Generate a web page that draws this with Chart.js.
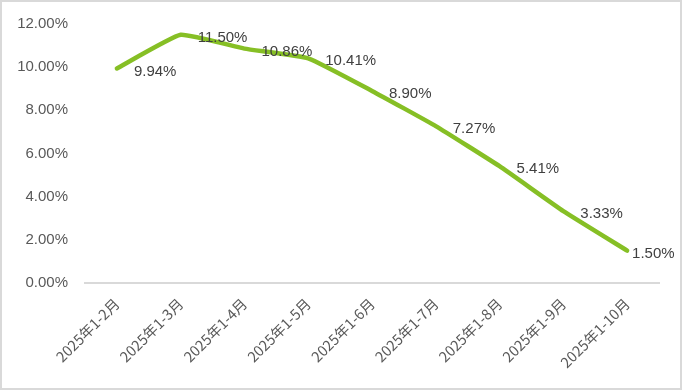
<!DOCTYPE html>
<html>
<head>
<meta charset="utf-8">
<script src="https://cdn.jsdelivr.net/npm/chart.js@4/dist/chart.umd.min.js"></script>
<style>
  html, body { margin: 0; padding: 0; background: #fff; }
  #wrap { width: 682px; height: 390px; box-sizing: border-box; border: 2px solid #d9d9d9; background: #fff; }
  canvas { display: block; }
</style>
</head>
<body>
<div id="wrap"><canvas id="chart" width="678" height="386"></canvas></div>
<script>
/* --- DATA --- */
const months = ['2025年1-2月', '2025年1-3月', '2025年1-4月', '2025年1-5月', '2025年1-6月',
                '2025年1-7月', '2025年1-8月', '2025年1-9月', '2025年1-10月'];
const growth = [9.94, 11.50, 10.86, 10.41, 8.90, 7.27, 5.41, 3.33, 1.50];
const yTicks = [0, 2, 4, 6, 8, 10, 12];

const lineColor = '#86bf25';
const textColor = '#595959';

// value labels drawn beside each point
const pointLabels = {
    id: 'pointLabels',
    afterDatasetsDraw(chart) {
        const ctx = chart.ctx;
        const meta = chart.getDatasetMeta(0);
        ctx.save();
        ctx.font = '15px "Liberation Sans", "DejaVu Sans", sans-serif';
        ctx.fillStyle = '#404040';
        ctx.textAlign = 'left';
        ctx.textBaseline = 'middle';
        meta.data.forEach((pt, i) => {
            const dx = i === meta.data.length - 1 ? 5 : 17;
            ctx.fillText(growth[i].toFixed(2) + '%', pt.x + dx, pt.y + 3);
        });
        ctx.restore();
    }
};

new Chart(document.getElementById('chart'), {
    type: 'line',
    data: {
        labels: months,
        datasets: [{
            data: growth,
            borderColor: lineColor,
            borderWidth: 4.5,
            borderCapStyle: 'round',
            borderJoinStyle: 'round',
            pointRadius: 0,
            tension: 0.12,
            fill: false
        }]
    },
    options: {
        responsive: false,
        animation: false,
        layout: { padding: { top: 22, right: 21, left: 0, bottom: 0 } },
        plugins: { legend: { display: false }, tooltip: { enabled: false } },
        scales: {
            y: {
                min: 0, max: 12,
                afterBuildTicks: (axis) => { axis.ticks = yTicks.map(v => ({ value: v })); },
                afterFit: (axis) => { axis.width = 83; },
                grid: { display: false },
                border: { display: false },
                ticks: {
                    padding: 9,
                    color: textColor,
                    font: { family: '"Liberation Sans", "DejaVu Sans", sans-serif', size: 15 },
                    callback: (v) => v.toFixed(2) + '%'
                }
            },
            x: {
                offset: true,
                afterFit: (axis) => { axis.height = 105; },
                grid: { display: false, drawTicks: false, offset: true },
                border: { display: true, color: '#d9d9d9', width: 2 },
                ticks: {
                    minRotation: 45, maxRotation: 45,
                    padding: 12,
                    color: textColor,
                    font: { family: '"Noto Sans CJK SC", sans-serif', size: 14.5 }
                }
            }
        }
    },
    plugins: [pointLabels]
});
</script>
</body>
</html>
